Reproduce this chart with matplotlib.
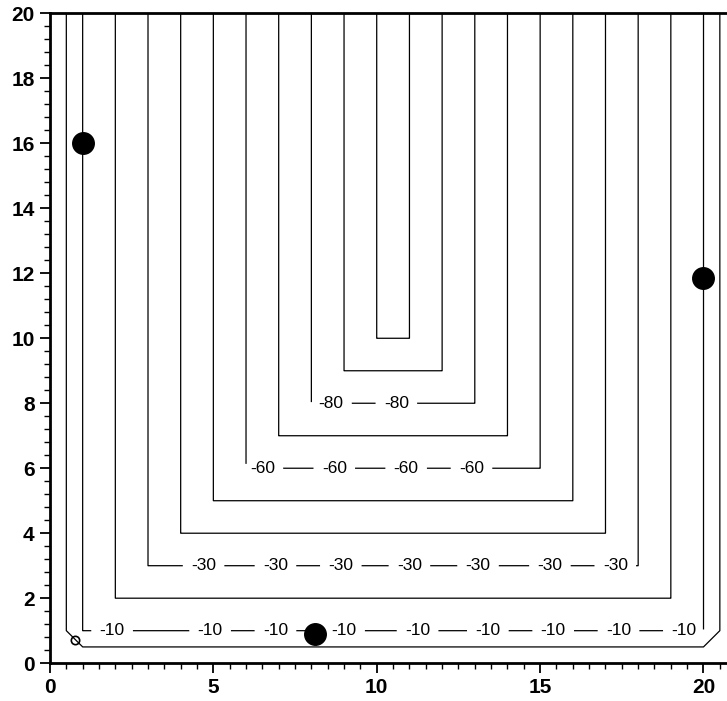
import numpy as np
import matplotlib.pyplot as plt
from matplotlib.ticker import MultipleLocator

plt.rcParams['font.family'] = ['Liberation Sans', 'DejaVu Sans']

# contour field: walls at x=0, x=21 and y=0 (integer grid nodes)
x_nodes = np.arange(0, 22)
y_nodes = np.arange(0, 21)
x_right_wall = 21

levels = [-100, -90, -80, -70, -60, -50, -40, -30, -20, -10, -5]
label_levels = [-80, -60, -30, -10]

# label positions
lab10_x = [1.9, 4.9, 6.9, 9.0, 11.25, 13.4, 15.4, 17.4, 19.4]
lab30_x = [4.7, 6.9, 8.9, 11.0, 13.1, 15.3, 17.3]
lab60_x = [6.5, 8.7, 10.9, 12.9]
lab80_x = [8.6, 10.6]

# filled dots
dot_x = [1.0, 8.1, 20.0]
dot_y = [16.0, 0.9, 11.85]

# small open circle near the corner
ring_x = [0.75]
ring_y = [0.7]

X, Y = np.meshgrid(x_nodes, y_nodes)
D = np.minimum(np.minimum(X, x_right_wall - X), Y)
Z = -10.0 * D

fig = plt.figure(figsize=(7.27, 7.01), dpi=100)
ax = fig.add_axes([0.0688, 0.054, 0.9312, 0.927])

plain = [l + 0.01 for l in levels if l not in label_levels]
labeled = [l + 0.01 for l in sorted(label_levels)]
ax.contour(X, Y, Z, levels=plain, colors='black', linewidths=0.9,
           linestyles='solid')
cs = ax.contour(X, Y, Z, levels=labeled, colors='black', linewidths=0.9,
                linestyles='solid')

manual = ([(v, 1.0) for v in lab10_x] + [(v, 3.0) for v in lab30_x]
          + [(v, 6.0) for v in lab60_x] + [(v, 8.0) for v in lab80_x])
ax.clabel(cs, manual=manual, inline=True, inline_spacing=8, fontsize=12.5,
          fmt=lambda v: '%d' % round(v))

ax.plot(dot_x, dot_y, 'o', color='black', markersize=15.5, zorder=5)
ax.plot(ring_x, ring_y, 'o', markerfacecolor='none', markeredgecolor='black',
        markersize=6, markeredgewidth=1.2, zorder=5)

ax.set_xlim(0, 20.72)
ax.set_ylim(0, 20)
ax.xaxis.set_major_locator(MultipleLocator(5))
ax.xaxis.set_minor_locator(MultipleLocator(0.5))
ax.yaxis.set_major_locator(MultipleLocator(2))
ax.yaxis.set_minor_locator(MultipleLocator(0.4))
ax.tick_params(which='major', direction='out', length=7, width=1.3,
               labelsize=15, pad=4)
ax.tick_params(which='minor', direction='out', length=4, width=1.0)
ax.tick_params(top=False, right=False)
for lab in ax.get_xticklabels() + ax.get_yticklabels():
    lab.set_fontweight('bold')

ax.spines['right'].set_visible(False)
for s in ['left', 'bottom', 'top']:
    ax.spines[s].set_linewidth(2.0)

fig.savefig('out.png', dpi=100)
plt.close(fig)
